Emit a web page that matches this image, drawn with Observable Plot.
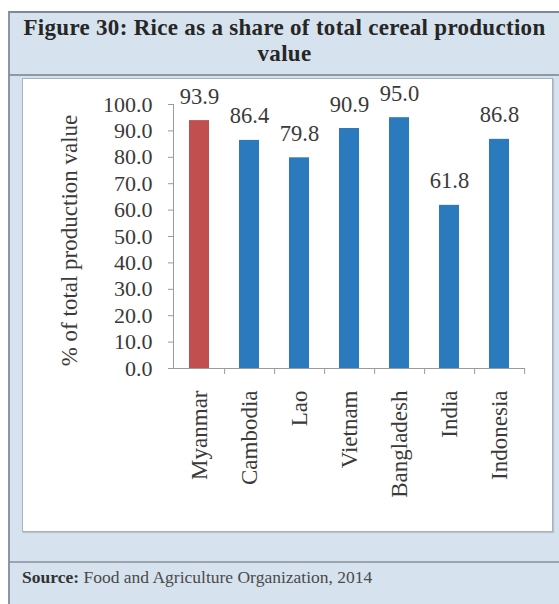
<!DOCTYPE html>
<html>
<head>
<meta charset="utf-8">
<script src="https://cdn.jsdelivr.net/npm/d3@7"></script>
<script src="https://cdn.jsdelivr.net/npm/@observablehq/plot@0.6"></script>
<style>
  html, body { margin: 0; padding: 0; background: #ffffff; }
  body { width: 559px; height: 604px; position: relative; overflow: hidden; font-family: "Liberation Serif", "Times New Roman", serif; }
  #panel { position: absolute; left: 8px; top: 11px; width: 551px; height: 593px; background: #d6e2ed; border-left: 2px solid #8a96a3; border-top: 2px solid #7d8893; box-sizing: border-box; }
  #title { position: absolute; left: 0; top: 2px; width: 549px; text-align: center; font-weight: bold; font-size: 23px; line-height: 26px; color: #262626; letter-spacing: 0.3px; white-space: nowrap; }
  #hsep { position: absolute; left: 0; top: 61px; width: 551px; height: 0; border-top: 2px solid #8d99a5; }
  #box { position: absolute; left: 12px; top: 65px; width: 531px; height: 454px; background: #ffffff; border: 1px solid #a9b2bb; box-shadow: 1px 1px 1px #b9c2cb; box-sizing: border-box; }
  #box svg { position: absolute; left: 0; top: 0; }
  #ssep { position: absolute; left: 0; top: 548px; width: 551px; height: 0; border-top: 2px solid #9aa5b0; }
  #source { position: absolute; left: 12px; top: 554px; font-size: 17.5px; color: #4a4a4a; }
  #source b { color: #333; }
</style>
</head>
<body>
<div id="panel">
  <div id="title">Figure 30: Rice as a share of total cereal production<br>value</div>
  <div id="hsep"></div>
  <div id="box"></div>
  <div id="ssep"></div>
  <div id="source"><b>Source:</b> Food and Agriculture Organization, 2014</div>
</div>
<script>
const countries = ["Myanmar", "Cambodia", "Lao", "Vietnam", "Bangladesh", "India", "Indonesia"];
const values = [93.9, 86.4, 79.8, 90.9, 95.0, 61.8, 86.8];
const highlighted = ["Myanmar"];
const yTicks = [0, 10, 20, 30, 40, 50, 60, 70, 80, 90, 100];
const yLabel = "% of total production value";
const colorHighlight = "#c14f4f";
const colorOther = "#2a7abd";

const data = countries.map((c, i) => ({country: c, value: values[i]}));

const W = 529, H = 452;
const mL = 150, mR = 27, mT = 25, mB = 163;
const step = (W - mL - mR) / countries.length;
const font = "Liberation Serif, Times New Roman, serif";

const chart = Plot.plot({
  width: W,
  height: H,
  marginLeft: mL,
  marginRight: mR,
  marginTop: mT,
  marginBottom: mB,
  style: {fontFamily: font, background: "transparent", color: "#333"},
  x: {domain: countries, paddingInner: 0.6, paddingOuter: 0.3, axis: null},
  y: {domain: [0, 100], axis: null},
  marks: [
    Plot.barY(data, {x: "country", y: "value", fill: d => highlighted.includes(d.country) ? colorHighlight : colorOther}),
    Plot.axisY(yTicks, {tickSize: 5, tickPadding: 16, tickFormat: d => d.toFixed(1), fontSize: 22, stroke: "#9a9a9a", fill: "#3a3a3a", label: null}),
    Plot.text([yLabel], {frameAnchor: "left", textAnchor: "middle", text: d => d, rotate: -90, dx: -104, dy: 4, fontSize: 23, fill: "#3a3a3a"}),
    Plot.axisX({tickSize: 0, tickPadding: 22, tickRotate: -90, fontSize: 23, fill: "#3a3a3a", label: null}),
    Plot.axisX({tickSize: 6, tickFormat: () => "", dx: step / 2, stroke: "#9a9a9a", label: null}),
    Plot.ruleY([0], {stroke: "#9a9a9a", insetLeft: -1}),
    Plot.frame({anchor: "left", stroke: "#9a9a9a"}),
    Plot.text(data, {x: "country", y: "value", text: d => d.value.toFixed(1), lineAnchor: "bottom", dy: -17, fontSize: 22.5, fill: "#3a3a3a"})
  ]
});
document.getElementById("box").appendChild(chart);
</script>
</body>
</html>
